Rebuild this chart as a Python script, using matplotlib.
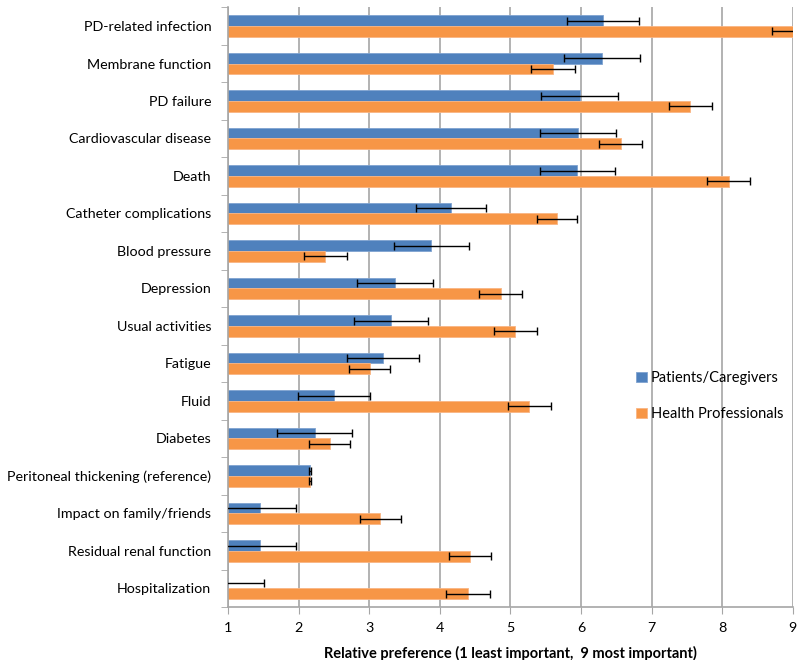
import matplotlib
matplotlib.use('Agg')
import matplotlib.pyplot as plt
import numpy as np

plt.rcParams['font.family'] = ['Lato', 'DejaVu Sans']
plt.rcParams['font.size'] = 10

# Data
categories = [
    'PD-related infection', 'Membrane function', 'PD failure',
    'Cardiovascular disease', 'Death', 'Catheter complications',
    'Blood pressure', 'Depression', 'Usual activities', 'Fatigue',
    'Fluid', 'Diabetes', 'Peritoneal thickening (reference)',
    'Impact on family/friends', 'Residual renal function', 'Hospitalization',
]
patients = [6.31, 6.30, 5.98, 5.96, 5.95, 4.16, 3.88, 3.37, 3.31, 3.19,
            2.50, 2.23, 2.16, 1.46, 1.46, 1.00]
patients_err = [0.51, 0.54, 0.54, 0.54, 0.53, 0.50, 0.53, 0.54, 0.52, 0.51,
                0.51, 0.53, 0.01, 0.51, 0.50, 0.51]
professionals = [9.00, 5.60, 7.55, 6.56, 8.09, 5.66, 2.38, 4.86, 5.07, 3.01,
                 5.27, 2.44, 2.16, 3.16, 4.43, 4.40]
professionals_err = [0.29, 0.31, 0.31, 0.31, 0.30, 0.29, 0.30, 0.31, 0.30, 0.29,
                     0.31, 0.29, 0.01, 0.29, 0.30, 0.31]
series_names = ['Patients/Caregivers', 'Health Professionals']

colors = {'blue': '#4F81BD', 'orange': '#F79646', 'grid': '#A6A6A6'}

fig = plt.figure(figsize=(8, 6.6), dpi=100)
ax = fig.add_axes([0.285, 0.080, 0.706, 0.909])

n = len(categories)
y = np.arange(n)[::-1]
h = 0.29

ax.barh(y + h / 2, patients, height=h, color=colors['blue'],
        edgecolor='#7FA3D0', linewidth=0.6, label=series_names[0], zorder=2)
ax.barh(y - h / 2, professionals, height=h, color=colors['orange'],
        edgecolor='#F9B583', linewidth=0.6, label=series_names[1], zorder=2)
ax.errorbar(patients, y + h / 2, xerr=patients_err, fmt='none', ecolor='black',
            elinewidth=1, capsize=3, capthick=1, zorder=3)
ax.errorbar(professionals, y - h / 2, xerr=professionals_err, fmt='none',
            ecolor='black', elinewidth=1, capsize=3, capthick=1, zorder=3)

ax.set_xlim(1, 9)
ax.set_ylim(-0.5, n - 0.5)
ax.set_xticks(range(1, 10))
ax.xaxis.grid(True, color=colors['grid'], linewidth=1.2, zorder=0)
ax.set_axisbelow(True)

ax.set_yticks(y)
ax.set_yticklabels(categories, fontsize=10.3)
ax.set_yticks(np.arange(-0.5, n, 1.0), minor=True)
ax.tick_params(axis='y', which='major', length=0, pad=12)
ax.tick_params(axis='y', which='minor', length=5, color=colors['grid'])
ax.tick_params(axis='x', length=5, color=colors['grid'], labelsize=10.3, pad=6)

for side in ['top', 'right']:
    ax.spines[side].set_visible(False)
for side in ['left', 'bottom']:
    ax.spines[side].set_color(colors['grid'])
    ax.spines[side].set_linewidth(1.2)

ax.set_xlabel('Relative preference (1 least important,  9 most important)',
              fontsize=10.5, fontweight='bold', labelpad=8)

ax.legend(loc='center left', bbox_to_anchor=(0.70, 0.352), frameon=False,
          fontsize=10.5, handlelength=0.7, handleheight=0.7,
          labelspacing=1.5, handletextpad=0.3)

plt.savefig('out.png', dpi=100, facecolor='white')
